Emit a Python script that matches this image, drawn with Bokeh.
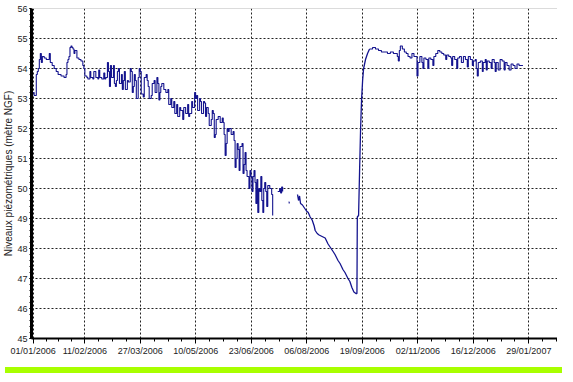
import numpy as np
import pandas as pd
from bokeh.plotting import figure
from bokeh.models import (FixedTicker, SingleIntervalTicker, DatetimeTickFormatter,
                          Range1d, Span, Div, ColumnDataSource)
from bokeh.layouts import column
from bokeh.embed import file_html
from bokeh.resources import INLINE

NAN = float("nan")

# ---- data: days since 01/01/2006 and piezometric level (m NGF) ----
day_offset = [
    0.0, 0.8, 1.7, 2.5, 3.3, 4.1, 4.9, 5.7, 6.5, 7.3, 8.8, 10.4, 12.0, 12.8, 13.6, 15.1, 16.7, 18.3,
    19.8, 22.1, 24.5, 26.1, 26.8, 27.6, 28.4, 29.2, 30.0, 30.8, 31.6, 32.4, 33.1, 34.7, 36.3, 37.9,
    39.4, 40.2, 41.0, 42.6, 43.4, 45.0, 45.7, 47.3, 48.1, 49.7, 51.3, 52.0, 52.8, 54.4, 56.0, 56.8,
    57.6, 58.9, 59.7, 60.5, 61.3, 62.1, 63.7, 64.4, 65.2, 66.0, 66.8, 67.6, 68.4, 70.0, 70.7, 71.5,
    72.3, 73.1, 74.7, 75.5, 77.0, 77.8, 78.6, 79.4, 80.2, 81.0, 81.8, 83.3, 84.1, 84.9, 85.7, 87.3,
    88.1, 89.6, 90.4, 91.2, 92.0, 93.6, 94.4, 95.9, 96.7, 98.1, 98.9, 99.7, 100.5, 101.2, 102.0,
    103.6, 105.2, 106.8, 107.5, 109.1, 109.9, 111.5, 112.3, 113.8, 114.6, 116.2, 117.0, 118.6,
    119.4, 120.9, 122.5, 123.3, 124.1, 125.7, 126.4, 128.0, 128.8, 129.6, 130.4, 132.0, 132.7,
    133.5, 134.3, 135.1, 135.9, 136.7, 137.5, 138.8, 139.6, 141.2, 142.0, 142.8, 143.6, 144.4,
    145.1, 146.7, 148.3, 149.9, 150.7, 151.4, 152.2, 153.0, 153.8, 154.6, 155.4, 157.0, 158.5,
    159.3, 160.1, 160.9, 161.7, 162.5, 163.3, 164.0, 165.6, 166.4, 167.2, 168.0, 168.8, 169.6,
    171.1, 171.9, 172.7, 173.5, 174.3, 175.1, 175.9, 176.6, 177.4, 178.1, 178.9, 179.7, 180.5,
    181.3, 182.1, 182.8, 183.6, 184.4, 185.2, 186.0, 187.6, 189.1, 189.9,
    191.9,
    193.9, 195.4, 196.2, 197.0, 197.8,
    200.0,
    202.5, 203.0,
    206.0,
    209.6, 210.4, 211.2, 212.0, 213.5, 215.1, 216.7, 218.1, 219.6, 221.2, 222.8, 223.6, 225.2,
    226.7, 229.1, 231.5, 233.8, 235.4, 237.8, 239.3, 241.7, 243.3, 245.6, 247.2, 249.6, 251.1,
    252.7, 254.3, 255.9, 256.7, 257.0, 258.0, 258.8, 259.6, 260.4, 261.2, 262.0, 263.5, 265.1,
    266.7, 269.1, 271.4, 273.8, 276.1, 278.5, 280.9, 283.2, 285.6, 287.2, 288.7, 289.5, 290.3,
    291.1, 292.7, 294.3, 295.8, 297.2, 298.8, 300.3, 301.9, 303.5, 304.3, 305.1, 306.6, 308.2,
    309.0, 309.8, 311.4, 312.9, 313.7, 315.3, 316.9, 317.7, 319.2, 320.8, 322.4, 324.0, 325.5,
    327.1, 327.9, 329.5, 331.1, 331.8, 332.6, 334.2, 335.8, 336.6, 338.0, 339.5, 341.1, 342.7,
    344.2, 345.0, 346.6, 348.2, 349.0, 350.5, 351.3, 352.1, 352.9, 354.5, 356.1, 356.8, 358.4,
    359.2, 360.0, 361.6, 363.1, 363.9, 365.5, 366.3, 367.1, 368.7, 370.2, 371.8, 373.4, 374.2,
    375.7, 377.3, 378.9, 380.5, 382.0, 383.6, 385.2, 386.8, 388.3,
]

level = [
    53.2, 53.1, 53.1, 53.8, 53.9, 54.0, 54.3, 54.5, 54.2, 54.4, 54.35, 54.3, 54.3, 54.5, 54.2, 54.1, 54.0, 53.9,
    53.8, 53.75, 53.7, 53.8, 54.2, 54.3, 54.4, 54.7, 54.75, 54.7, 54.65, 54.5, 54.6, 54.35, 54.3, 54.25,
    54.1, 54.0, 53.75, 53.7, 53.65, 53.9, 53.7, 53.65, 53.9, 53.7, 53.65, 53.95, 53.7, 53.65, 53.85, 53.65,
    53.7, 54.2, 53.9, 53.4, 54.1, 53.7, 54.1, 53.5, 53.4, 53.6, 53.9, 54.0, 53.5, 53.8, 53.3, 53.6,
    53.9, 53.3, 53.6, 53.55, 54.0, 53.9, 53.2, 53.4, 53.8, 53.6, 53.0, 53.7, 54.0, 53.9, 53.15, 53.05,
    53.7, 53.8, 53.6, 53.4, 53.0, 53.1, 53.5, 53.6, 53.2, 53.7, 53.5, 52.95, 53.2, 53.4, 53.5,
    53.3, 53.2, 53.3, 52.8, 53.0, 52.7, 52.9, 52.5, 52.8, 52.4, 52.7, 52.6, 52.3,
    52.7, 52.5, 52.8, 52.4, 52.5, 52.9, 52.7, 53.2, 53.0, 53.1, 52.6, 53.0, 52.9,
    52.5, 52.5, 52.9, 52.85, 52.4, 52.7, 52.5, 52.1, 52.3, 52.6, 52.5, 51.7, 51.8,
    52.3, 52.4, 52.2, 52.35, 52.2, 51.8, 51.1, 51.5, 52.0, 51.9, 52.0, 51.8, 51.9,
    51.6, 50.7, 51.0, 51.5, 51.3, 50.6, 51.4, 51.5, 50.5, 50.8, 51.2, 50.6, 50.4,
    50.0, 50.6, 50.4, 49.9, 50.4, 50.6, 50.2, 49.5, 50.3, 49.2, 50.0, 49.9, 50.4,
    49.6, 49.2, 50.0, 50.2, 49.9, 49.4, 50.1, 50.0, 49.8, 49.1,
    NAN,
    49.9, 50.0, 49.85, 50.05, 49.9,
    NAN,
    49.55, 49.5,
    NAN,
    49.8, 49.6, 49.75, 49.5, 49.45, 49.35, 49.25, 49.2, 49.05, 48.95, 48.75, 48.6, 48.5,
    48.45, 48.4, 48.35, 48.15, 48.05, 47.9, 47.8, 47.6, 47.5, 47.3, 47.2, 47.0, 46.9,
    46.7, 46.55, 46.5, 46.5, 49.05, 49.1, 50.6, 52.0, 53.0, 53.6, 54.0, 54.3, 54.5,
    54.65, 54.7, 54.65, 54.6, 54.55, 54.55, 54.5, 54.55, 54.5, 54.5, 54.4, 54.25, 54.6,
    54.75, 54.65, 54.55, 54.5, 54.4, 54.35, 54.5, 54.4, 54.4, 53.75, 54.2, 54.4, 54.2,
    54.0, 54.35, 54.3, 54.0, 54.35, 54.3, 54.1, 54.4, 54.5, 54.6, 54.55, 54.5, 54.45,
    54.3, 54.45, 54.4, 54.35, 54.1, 54.4, 54.3, 54.0, 54.35, 54.4, 54.2, 54.4, 54.3,
    54.05, 54.4, 54.3, 54.1, 54.25, 54.3, 54.0, 53.75, 54.2, 54.25, 53.9, 54.2, 54.3,
    53.95, 54.25, 54.2, 54.0, 54.3, 54.2, 53.9, 54.2, 53.95, 54.3, 54.25, 53.95, 54.2,
    54.1, 53.95, 54.15, 54.1, 54.0, 54.15, 54.1, 54.1, 54.1,
]

tick_dates = ["2006-01-01", "2006-02-11", "2006-03-27", "2006-05-10", "2006-06-23",
              "2006-08-06", "2006-09-19", "2006-11-02", "2006-12-16", "2007-01-29"]
y_ticks_interval = 1
y_min, y_max = 45, 56
y_label = "Niveaux piézométriques (mètre NGF)"
# period of continuous recession and recovery (drawn as a smooth line)
smooth_from_day, smooth_to_day = 205.0, 266.7

# ---- build ----
base = pd.Timestamp("2006-01-01")
days = np.array(day_offset, dtype=float)
vals = np.array(level, dtype=float)
dates = base + pd.to_timedelta(days, unit="D")

smooth = (days >= smooth_from_day) & (days <= smooth_to_day)
before = days <= smooth_from_day
after = days >= smooth_to_day

src_smooth = ColumnDataSource(dict(date=dates[smooth], level=vals[smooth]))
src_before = ColumnDataSource(dict(date=dates[before], level=vals[before]))
src_after = ColumnDataSource(dict(date=dates[after], level=vals[after]))

x_start = base - pd.Timedelta(days=1.3)
x_end = base + pd.Timedelta(days=415.7)

p = figure(width=557, height=362, x_axis_type="datetime",
           x_range=Range1d(x_start, x_end), y_range=Range1d(y_min, y_max),
           output_backend="svg", toolbar_location=None,
           min_border_left=25, min_border_right=0, min_border_top=8, min_border_bottom=24)

p.background_fill_color = "white"
p.border_fill_color = "white"
p.outline_line_color = None

major_ms = [pd.Timestamp(d).value / 1e6 for d in tick_dates]
minor_ms = []
for a, b in zip(major_ms[:-1], major_ms[1:]):
    step = (b - a) / 4
    minor_ms += [a + step * k for k in range(1, 4)]
last_step = (major_ms[-1] - major_ms[-2]) / 4
minor_ms += [major_ms[-1] + last_step * k for k in range(1, 3)]

p.xaxis.ticker = FixedTicker(ticks=major_ms, minor_ticks=minor_ms)
fmt = "%d/%m/%Y"
p.xaxis.formatter = DatetimeTickFormatter(milliseconds=fmt, seconds=fmt, minsec=fmt, minutes=fmt,
                                          hourmin=fmt, hours=fmt, days=fmt, months=fmt, years=fmt)
p.yaxis.ticker = SingleIntervalTicker(interval=y_ticks_interval, num_minor_ticks=5)

for ax in (p.xaxis, p.yaxis):
    ax.major_label_text_font = "Liberation Sans"
    ax.major_label_text_font_size = "9px"
    ax.major_label_text_color = "#222222"
    ax.axis_line_color = "black"
    ax.major_tick_line_color = "black"
    ax.minor_tick_line_color = "black"

p.xaxis.axis_line_width = 2
p.xaxis.major_tick_out = 5
p.xaxis.major_tick_in = 0
p.xaxis.minor_tick_out = 3
p.xaxis.minor_tick_in = 0
p.xaxis.major_label_standoff = 2

p.yaxis.axis_line_width = 3
p.yaxis.major_tick_out = 2
p.yaxis.major_tick_in = 0
p.yaxis.minor_tick_out = 2
p.yaxis.minor_tick_in = 0
p.yaxis.major_label_standoff = 2
p.yaxis.axis_label = y_label
p.yaxis.axis_label_text_font = "Liberation Sans"
p.yaxis.axis_label_text_font_size = "10px"
p.yaxis.axis_label_text_font_style = "normal"
p.yaxis.axis_label_text_color = "#222222"
p.yaxis.axis_label_standoff = 0

p.xgrid.grid_line_color = "#222222"
p.xgrid.grid_line_dash = "2 2"
p.xgrid.grid_line_width = 1
p.ygrid.grid_line_color = "#222222"
p.ygrid.grid_line_dash = "2 2"
p.ygrid.grid_line_width = 1

p.add_layout(Span(location=y_max, dimension="width", line_color="#b8b8b8", line_width=1))

line_color = "#14148e"
p.step("date", "level", source=src_before, mode="after", line_color=line_color, line_width=1.1)
p.line("date", "level", source=src_smooth, line_color=line_color, line_width=1.3)
p.step("date", "level", source=src_after, mode="after", line_color=line_color, line_width=1.1)

bar = Div(text="", width=557, height=6, styles={"background-color": "#a8ff00"})
layout = column(p, bar, spacing=0)

open("out.html", "w").write(file_html(layout, INLINE))
